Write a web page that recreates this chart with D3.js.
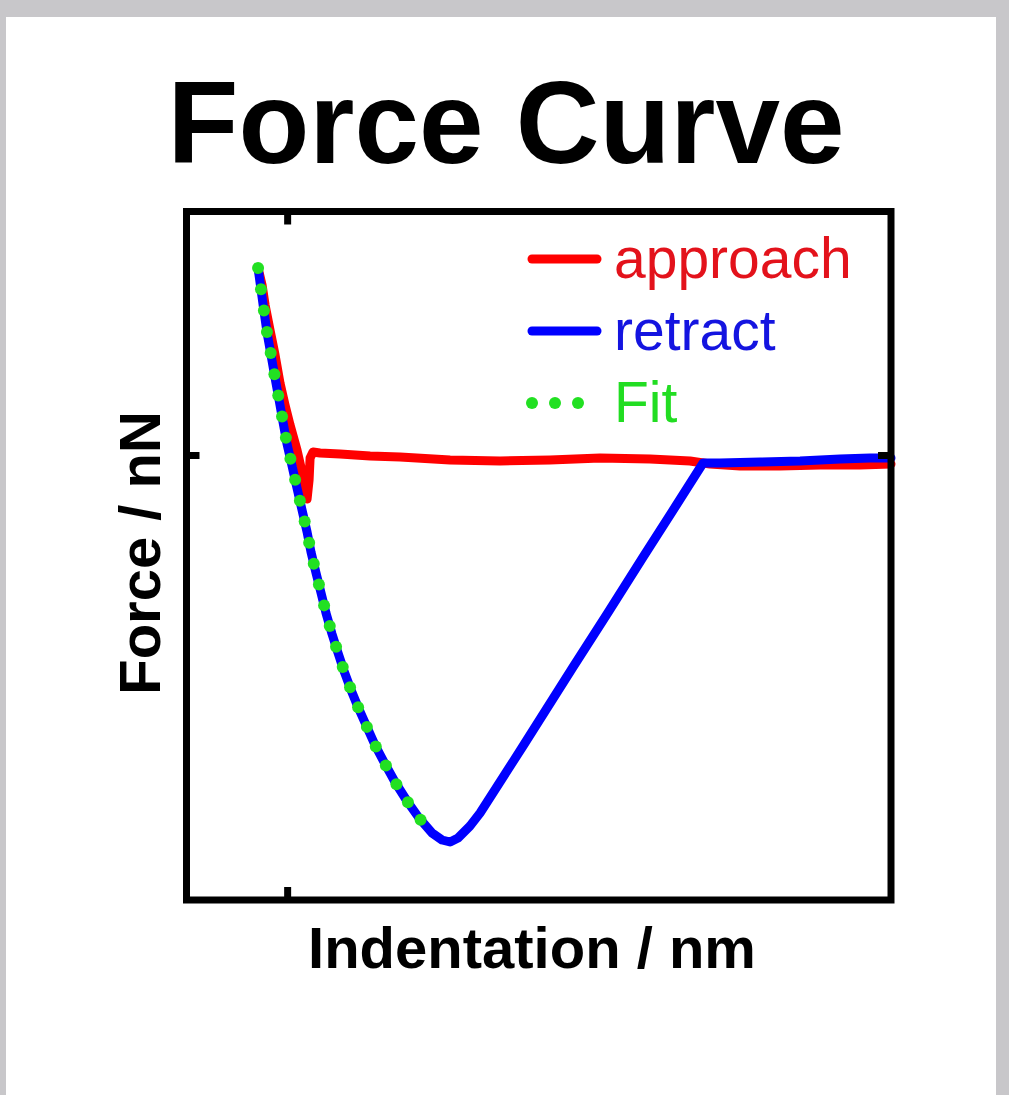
<!DOCTYPE html>
<meta charset="utf-8">
<style>
body { margin: 0; background: #c8c7ca; }
text { font-family: "Liberation Sans", Arial, Helvetica, sans-serif; }
.title { font-weight: bold; font-size: 116px; }
.axis-label { font-weight: bold; font-size: 58px; }
.legend text { font-size: 57px; }
</style>
<svg width="1009" height="1095"></svg>
<script src="https://d3js.org/d3.v7.min.js"></script>
<script>

// approach curve (indentation, force)
var approachX = [-2.89, -2.49, -2.19, -1.70, -1.20, -0.71, -0.21, 0.29, 0.98, 1.48, 1.78, 1.98, 2.18, 2.28, 2.57, 3.27, 5.26, 8.24, 11.22, 16.19, 21.15, 26.12, 31.09, 36.06, 40.03, 42.02, 45.0, 48.98, 52.95, 56.93, 60.0];
var approachY = [1.87, 1.70, 1.50, 1.25, 1.00, 0.72, 0.50, 0.30, 0.05, -0.17, -0.33, -0.44, -0.25, -0.03, 0.03, 0.02, 0.01, -0.01, -0.02, -0.05, -0.06, -0.05, -0.03, -0.04, -0.06, -0.09, -0.11, -0.11, -0.10, -0.10, -0.09];

// retract curve
var retractX = [-2.89, -2.59, -2.29, -1.99, -1.60, -1.20, -0.80, -0.41, -0.01, 0.49, 0.98, 1.48, 1.98, 2.37, 2.87, 3.37, 3.86, 4.46, 5.06, 5.65, 6.35, 7.04, 7.84, 8.73, 9.73, 10.72, 11.91, 13.11, 14.40, 15.39, 16.19, 16.98, 18.17, 19.17, 23.44, 28.41, 31.79, 35.37, 38.55, 41.33, 43.02, 46.99, 50.97, 54.94, 57.92, 60.0];
var retractY = [1.87, 1.65, 1.43, 1.22, 1.00, 0.77, 0.55, 0.33, 0.11, -0.11, -0.33, -0.55, -0.77, -0.97, -1.18, -1.38, -1.58, -1.79, -1.98, -2.16, -2.35, -2.52, -2.70, -2.90, -3.09, -3.27, -3.46, -3.63, -3.78, -3.85, -3.87, -3.83, -3.71, -3.58, -2.91, -2.12, -1.59, -1.02, -0.52, -0.08, -0.08, -0.07, -0.06, -0.04, -0.03, -0.03];

// fit of the retract branch
var fitX = [-2.89, -2.59, -2.29, -1.99, -1.60, -1.20, -0.80, -0.41, -0.01, 0.49, 0.98, 1.48, 1.98, 2.37, 2.87, 3.37, 3.86, 4.46, 5.06, 5.65, 6.35, 7.04, 7.84, 8.73, 9.73, 10.72, 11.91, 13.11, 14.40];
var fitY = [1.87, 1.65, 1.43, 1.22, 1.00, 0.77, 0.55, 0.33, 0.11, -0.11, -0.33, -0.55, -0.77, -0.97, -1.18, -1.38, -1.58, -1.79, -1.98, -2.16, -2.35, -2.52, -2.70, -2.90, -3.09, -3.27, -3.46, -3.63, -3.78];

var xTicks = [0];
var yTicks = [0];

var legendNames = ["approach", "retract", "Fit"];
var legendColors = ["#ff0000", "#0000ff", "#22e022"];
var legendText = ["#e3121b", "#1414e0", "#22dd22"];

var svg = d3.select("svg");

// white panel
svg.append("rect")
    .attr("x", 6).attr("y", 17)
    .attr("width", 990).attr("height", 1100)
    .attr("fill", "#fff");

var pLeft = 186.5, pRight = 891, pTop = 211.5, pBottom = 900;

var x = d3.scaleLinear().domain([-10, 60]).range([pLeft, pRight]);
var y = d3.scaleLinear().domain([-4.45, 2.435]).range([pBottom, pTop]);

svg.append("text")
    .attr("class", "title")
    .attr("x", 506).attr("y", 163)
    .attr("text-anchor", "middle")
    .text("Force Curve");

function zip(xs, ys) { return xs.map(function(d, i) { return [d, ys[i]]; }); }

var line = d3.line()
    .x(function(d) { return x(d[0]); })
    .y(function(d) { return y(d[1]); });

var plot = svg.append("g");

plot.append("path")
    .datum(zip(approachX, approachY))
    .attr("d", line)
    .attr("fill", "none")
    .attr("stroke", legendColors[0])
    .attr("stroke-width", 9)
    .attr("stroke-linejoin", "round")
    .attr("stroke-linecap", "round");

plot.append("path")
    .datum(zip(retractX, retractY))
    .attr("d", line)
    .attr("fill", "none")
    .attr("stroke", legendColors[1])
    .attr("stroke-width", 9)
    .attr("stroke-linejoin", "round")
    .attr("stroke-linecap", "round");

// dotted fit: circles placed along the fit path
var fitPath = plot.append("path")
    .datum(zip(fitX, fitY))
    .attr("d", line)
    .attr("fill", "none")
    .attr("stroke", "none");

var node = fitPath.node(),
    total = node.getTotalLength(),
    step = 21.5,
    dots = d3.range(0, total + 0.1, step).map(function(l) { return node.getPointAtLength(l); });

plot.selectAll(".fitdot")
    .data(dots)
  .enter().append("circle")
    .attr("class", "fitdot")
    .attr("cx", function(d) { return d.x; })
    .attr("cy", function(d) { return d.y; })
    .attr("r", 6)
    .attr("fill", legendColors[2]);

// axes: ticks only, pointing inward
function styleAxis(g) {
  g.select(".domain").remove();
  g.selectAll(".tick line").attr("stroke", "#000").attr("stroke-width", 7);
}
svg.append("g").attr("transform", "translate(0," + pBottom + ")")
    .call(d3.axisBottom(x).tickValues(xTicks).tickSize(-13).tickFormat("")).call(styleAxis);
svg.append("g").attr("transform", "translate(0," + pTop + ")")
    .call(d3.axisTop(x).tickValues(xTicks).tickSize(-13).tickFormat("")).call(styleAxis);
svg.append("g").attr("transform", "translate(" + pLeft + ",0)")
    .call(d3.axisLeft(y).tickValues(yTicks).tickSize(-13).tickFormat("")).call(styleAxis);
svg.append("g").attr("transform", "translate(" + pRight + ",0)")
    .call(d3.axisRight(y).tickValues(yTicks).tickSize(-13).tickFormat("")).call(styleAxis);

svg.append("rect")
    .attr("x", pLeft).attr("y", pTop)
    .attr("width", pRight - pLeft).attr("height", pBottom - pTop)
    .attr("fill", "none")
    .attr("stroke", "#000")
    .attr("stroke-width", 7);

// legend
var legend = svg.append("g").attr("class", "legend");
legendNames.forEach(function(name, i) {
  var ly = 259 + i * 72;
  if (name === "Fit") {
    legend.selectAll(".legdot")
        .data([532, 555, 578])
      .enter().append("circle")
        .attr("class", "legdot")
        .attr("cx", function(d) { return d; })
        .attr("cy", ly)
        .attr("r", 6)
        .attr("fill", legendColors[i]);
  } else {
    legend.append("line")
        .attr("x1", 532).attr("x2", 597)
        .attr("y1", ly).attr("y2", ly)
        .attr("stroke", legendColors[i])
        .attr("stroke-width", 9)
        .attr("stroke-linecap", "round");
  }
  legend.append("text")
      .attr("x", 614).attr("y", ly + 19)
      .attr("fill", legendText[i])
      .text(name);
});

svg.append("text")
    .attr("class", "axis-label")
    .attr("x", 532).attr("y", 968)
    .attr("text-anchor", "middle")
    .text("Indentation / nm");

svg.append("text")
    .attr("class", "axis-label")
    .attr("transform", "translate(160,553) rotate(-90)")
    .attr("text-anchor", "middle")
    .text("Force / nN");

</script>
